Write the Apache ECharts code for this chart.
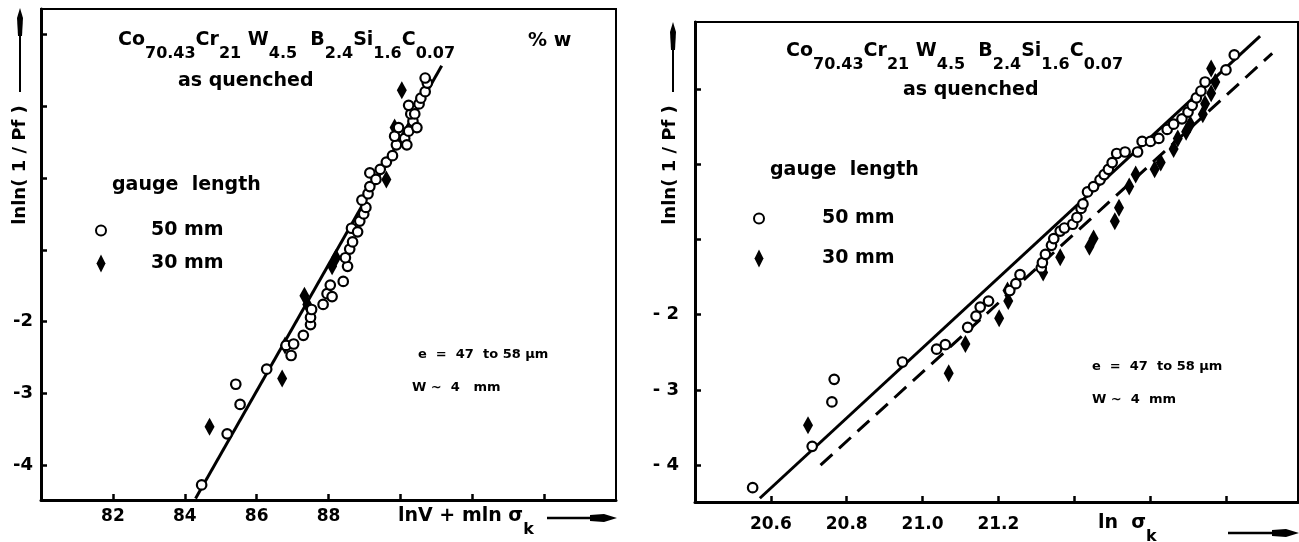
<!DOCTYPE html>
<html><head><meta charset="utf-8">
<script src="https://cdn.jsdelivr.net/npm/echarts@6/dist/echarts.min.js"></script>
<style>html,body{margin:0;padding:0;background:#fff}#c{width:1299px;height:542px}</style>
</head><body><div id="c"></div>
<script>
// ---------- DATA ----------
// Left panel: x = lnV + m ln sigma, y = lnln(1/Pf)
const leftCircles50 = [[84.47,-4.27],[85.18,-3.56],[85.42,-2.87],[85.54,-3.15],[86.28,-2.66],[86.82,-2.33],[86.96,-2.47],[87.03,-2.31],[87.30,-2.19],[87.5,-2.04],[87.5,-1.94],[87.53,-1.83],[87.85,-1.76],[87.96,-1.61],[88.10,-1.65],[88.05,-1.49],[88.41,-1.44],[88.53,-1.23],[88.47,-1.11],[88.59,-0.99],[88.67,-0.89],[88.64,-0.70],[88.81,-0.75],[88.87,-0.60],[88.98,-0.50],[89.04,-0.41],[88.93,-0.31],[89.10,-0.22],[89.15,-0.12],[89.15,0.07],[89.32,-0.02],[89.44,0.12],[89.61,0.22],[89.78,0.31],[89.89,0.46],[89.84,0.58],[89.95,0.70],[90.12,0.55],[90.18,0.46],[90.23,0.65],[90.35,0.79],[90.46,0.70],[90.29,0.89],[90.23,1.01],[90.40,0.89],[90.52,1.03],[90.57,1.11],[90.69,1.20],[90.75,1.32],[90.69,1.39]];
const leftDiamonds30 = [[84.69,-3.46],[86.71,-2.79],[86.79,-2.33],[87.33,-1.64],[87.41,-1.76],[88.10,-1.23],[88.21,-1.11],[89.61,-0.02],[89.84,0.70],[90.04,1.22]];
const leftFit = [[84.3,-4.46],[91.15,1.56]];
const leftXTicks = [82,84,86,88,90,92,94];
const leftXLabels = [82,84,86,88];
const leftYTicks = [-4,-3,-2,-1,0,1,2];
const leftYLabels = [-4,-3,-2];

// Right panel: x = ln sigma, y = lnln(1/Pf)
const rightCircles50 = [[20.552,-4.30],[20.709,-3.75],[20.761,-3.16],[20.767,-2.86],[20.947,-2.63],[21.037,-2.46],[21.06,-2.40],[21.119,-2.17],[21.141,-2.02],[21.152,-1.90],[21.174,-1.82],[21.23,-1.68],[21.246,-1.59],[21.257,-1.47],[21.313,-1.38],[21.316,-1.31],[21.324,-1.20],[21.34,-1.08],[21.346,-0.99],[21.363,-0.89],[21.374,-0.85],[21.396,-0.80],[21.407,-0.71],[21.418,-0.59],[21.423,-0.53],[21.435,-0.37],[21.451,-0.30],[21.468,-0.21],[21.479,-0.14],[21.49,-0.07],[21.50,0.02],[21.512,0.14],[21.534,0.16],[21.567,0.16],[21.579,0.30],[21.601,0.30],[21.623,0.34],[21.645,0.46],[21.662,0.53],[21.684,0.60],[21.70,0.69],[21.711,0.78],[21.722,0.88],[21.734,0.97],[21.745,1.09],[21.80,1.25],[21.822,1.45]];
const rightDiamonds30 = [[20.698,-3.47],[21.069,-2.78],[21.113,-2.39],[21.202,-2.05],[21.224,-1.68],[21.226,-1.82],[21.318,-1.44],[21.363,-1.24],[21.44,-1.10],[21.451,-0.99],[21.507,-0.76],[21.518,-0.58],[21.545,-0.30],[21.562,-0.14],[21.612,-0.07],[21.628,0.02],[21.662,0.20],[21.673,0.34],[21.695,0.43],[21.706,0.53],[21.739,0.66],[21.745,0.80],[21.761,0.94],[21.772,1.09],[21.761,1.27]];
const rightFitSolid = [[20.571,-4.44],[21.89,1.70]];
const rightFitDashed = [[20.731,-4.0],[21.922,1.47]];
const rightXTicks = [20.6,20.8,21.0,21.2,21.4,21.6,21.8];
const rightXLabels = [20.6,20.8,21.0,21.2];
const rightYTicks = [-4,-3,-2,-1,0,1];
const rightYLabels = [-4,-3,-2];

const seriesNames = ['50 mm','30 mm'];
// ---------- CHART ----------
const FONT = 'DejaVu Sans';
const diamond = 'path://M0,-10 L5,0 L0,10 L-5,0 Z';
const chart = echarts.init(document.getElementById('c'), null, {renderer:'canvas'});

function xAxisCfg(gi, min, max, ticks, labels, fmt, margin){
  return {type:'value', gridIndex:gi, min:min, max:max, splitLine:{show:false},
    axisLine:{onZero:false, lineStyle:{color:'#000', width:3}},
    axisTick:{inside:true, length:6, lineStyle:{color:'#000', width:2.5}, customValues:ticks},
    axisLabel:{customValues:labels, formatter:fmt, color:'#000', fontFamily:FONT, fontWeight:'bold', fontSize:17, margin:margin}};
}
function yAxisCfg(gi, min, max, ticks, labels, fmt, margin){
  return {type:'value', gridIndex:gi, min:min, max:max, splitLine:{show:false},
    axisLine:{onZero:false, lineStyle:{color:'#000', width:3}},
    axisTick:{inside:true, length:6, lineStyle:{color:'#000', width:2.5}, customValues:ticks},
    axisLabel:{customValues:labels, formatter:fmt, color:'#000', fontFamily:FONT, fontWeight:'bold', fontSize:18, margin:margin}};
}
const circleStyle = {color:'#fff', borderColor:'#000', borderWidth:2.2, opacity:1};
const diamondStyle = {color:'#000', borderColor:'#000', borderWidth:0, opacity:1};

const rich = {
  m:{fontFamily:FONT, fontWeight:'bold', fontSize:19, lineHeight:21, verticalAlign:'top', color:'#000'},
  s:{fontFamily:FONT, fontWeight:'bold', fontSize:16, lineHeight:21, verticalAlign:'bottom', color:'#000'},
  g:{fontSize:10, lineHeight:31}
};
const formula = '{m|Co}{s|70.43}{m|Cr}{s|21} {m|W}{s|4.5}  {m|B}{s|2.4}{m|Si}{s|1.6}{m|C}{s|0.07}{g| }';
const txt = (t, left, top, size) => ({text:t, left:left, top:top, padding:0, itemGap:0,
  textStyle:{fontFamily:FONT, fontWeight:'bold', fontSize:size||19, color:'#000', rich:rich}});

const option = {
  animation:false,
  backgroundColor:'#fff',
  grid:[
    {left:41, top:9, width:575, height:491, show:true, borderColor:'#000', borderWidth:2, backgroundColor:'transparent'},
    {left:695, top:22, width:603, height:480, show:true, borderColor:'#000', borderWidth:2, backgroundColor:'transparent'}
  ],
  xAxis:[
    xAxisCfg(0, 80, 96, leftXTicks, leftXLabels, v => String(v), 8),
    xAxisCfg(1, 20.4, 21.99, rightXTicks, rightXLabels, v => v.toFixed(1), 14)
  ],
  yAxis:[
    yAxisCfg(0, -4.48, 2.35, leftYTicks, leftYLabels, v => String(v), 8),
    yAxisCfg(1, -4.49, 1.887, rightYTicks, rightYLabels, v => '- ' + Math.abs(v), 16)
  ],
  title:[
    txt(formula, 118, 31),
    txt('% w', 528, 32),
    txt('as quenched', 178, 72),
    txt('gauge  length', 112, 176),
    txt('e  =  47  to 58 μm', 418, 348, 13),
    txt('W ~  4   mm', 412, 381, 13),
    txt('{m|lnV + mln σ}{s|k}{g| }', 398, 507),
    txt(formula, 786, 42),
    txt('as quenched', 903, 81),
    txt('gauge  length', 770, 161),
    txt('e  =  47  to 58 μm', 1092, 360, 13),
    txt('W ~  4  mm', 1092, 393, 13),
    txt('{m|ln  σ}{s|k}{g| }', 1098, 514)
  ],
  legend:[
    {left:90, top:216, orient:'vertical', itemWidth:10, itemHeight:18, itemGap:14, selectedMode:false,
     data:[{name:seriesNames[0], icon:'circle'},{name:seriesNames[1], icon:diamond}],
     textStyle:{fontFamily:FONT, fontWeight:'bold', fontSize:19, color:'#000', padding:[0,0,0,40]}},
    {left:748, top:204, orient:'vertical', itemWidth:10, itemHeight:18, itemGap:21, selectedMode:false,
     data:[{name:seriesNames[0], icon:'circle'},{name:seriesNames[1], icon:diamond}],
     textStyle:{fontFamily:FONT, fontWeight:'bold', fontSize:19, color:'#000', padding:[0,0,0,53]}}
  ],
  graphic:[
    {type:'text', x:20, y:165, rotation:Math.PI/2, style:{text:'lnln( 1 / Pf )', font:'bold 18px "DejaVu Sans"', fill:'#000', align:'center', verticalAlign:'middle'}},
    {type:'line', shape:{x1:20, y1:92, x2:20, y2:34}, style:{stroke:'#000', lineWidth:2}},
    {type:'polygon', shape:{points:[[20,8],[23,18],[22,36],[18,36],[17,18]]}, style:{fill:'#000'}},
    {type:'line', shape:{x1:547, y1:518, x2:604, y2:518}, style:{stroke:'#000', lineWidth:2.5}},
    {type:'polygon', shape:{points:[[590,515],[604,514],[617,518],[604,522],[590,521]]}, style:{fill:'#000'}},
    {type:'text', x:670, y:165, rotation:Math.PI/2, style:{text:'lnln( 1 / Pf )', font:'bold 18px "DejaVu Sans"', fill:'#000', align:'center', verticalAlign:'middle'}},
    {type:'line', shape:{x1:673, y1:92, x2:673, y2:46}, style:{stroke:'#000', lineWidth:2}},
    {type:'polygon', shape:{points:[[673,22],[676,32],[675,50],[671,50],[670,32]]}, style:{fill:'#000'}},
    {type:'line', shape:{x1:1228, y1:533, x2:1285, y2:533}, style:{stroke:'#000', lineWidth:2.5}},
    {type:'polygon', shape:{points:[[1272,530],[1286,529],[1299,533],[1286,537],[1272,536]]}, style:{fill:'#000'}}
  ],
  series:[
    {type:'line', name:'fitL', xAxisIndex:0, yAxisIndex:0, data:leftFit, symbol:'none', z:1, lineStyle:{color:'#000', width:3}, silent:true},
    {type:'scatter', name:seriesNames[1], xAxisIndex:0, yAxisIndex:0, data:leftDiamonds30, symbol:diamond, symbolSize:[10,18], itemStyle:diamondStyle, z:3},
    {type:'scatter', name:seriesNames[0], xAxisIndex:0, yAxisIndex:0, data:leftCircles50, symbol:'circle', symbolSize:9.5, itemStyle:circleStyle, z:4},
    {type:'line', name:'fitRs', xAxisIndex:1, yAxisIndex:1, data:rightFitSolid, symbol:'none', z:1, lineStyle:{color:'#000', width:3}, silent:true},
    {type:'line', name:'fitRd', xAxisIndex:1, yAxisIndex:1, data:rightFitDashed, symbol:'none', z:1, lineStyle:{color:'#000', width:3, type:[16,9]}, silent:true},
    {type:'scatter', name:seriesNames[1], xAxisIndex:1, yAxisIndex:1, data:rightDiamonds30, symbol:diamond, symbolSize:[10,18], itemStyle:diamondStyle, z:3},
    {type:'scatter', name:seriesNames[0], xAxisIndex:1, yAxisIndex:1, data:rightCircles50, symbol:'circle', symbolSize:9.5, itemStyle:circleStyle, z:4}
  ]
};
chart.setOption(option);
</script>
</body></html>
